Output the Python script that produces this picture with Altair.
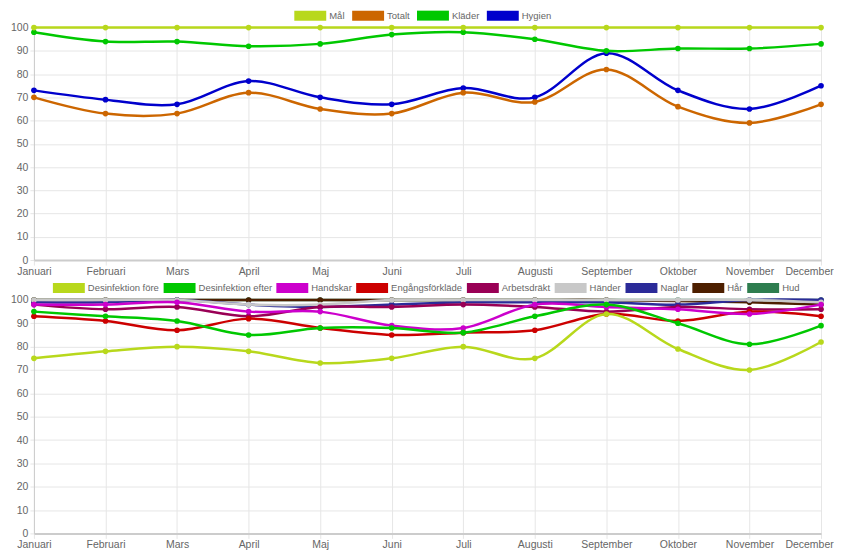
import altair as alt
import pandas as pd

months = ["Januari", "Februari", "Mars", "April", "Maj", "Juni", "Juli",
          "Augusti", "September", "Oktober", "November", "December"]

# ---- top chart ----
top_series = ["Mål", "Totalt", "Kläder", "Hygien"]
top_colors = ["#b8d81c", "#cc6600", "#00c800", "#0000cc"]
mal = [100, 100, 100, 100, 100, 100, 100, 100, 100, 100, 100, 100]
totalt = [70, 63, 63, 72, 65, 63, 72, 68, 82, 66, 59, 67]
klader = [98, 94, 94, 92, 93, 97, 98, 95, 90, 91, 91, 93]
hygien = [73, 69, 67, 77, 70, 67, 74, 70, 89, 73, 65, 75]
top_values = [mal, totalt, klader, hygien]

# ---- bottom chart ----
bot_series = ["Desinfektion före", "Desinfektion efter", "Handskar", "Engångsförkläde",
              "Arbetsdräkt", "Händer", "Naglar", "Hår", "Hud"]
bot_colors = ["#b8d81c", "#00c800", "#cc00cc", "#cc0000", "#990055",
              "#c8c8c8", "#2b2b99", "#4d1f00", "#2e7d4f"]
desinf_fore = [75, 78, 80, 78, 73, 75, 80, 75, 94, 79, 70, 82]
desinf_efter = [95, 93, 91, 85, 88, 88, 86, 93, 98, 90, 81, 89]
handskar = [98, 98, 99, 95, 95, 89, 88, 98, 97, 96, 94, 98]
engangs = [93, 91, 87, 92, 88, 85, 86, 87, 94, 91, 95, 93]
arbetsdrakt = [98, 96, 97, 93, 97, 97, 98, 97, 95, 97, 96, 96]
hander = [100, 100, 100, 98, 98, 100, 100, 100, 100, 100, 100, 99]
naglar = [99, 99, 100, 98, 97, 98, 99, 99, 99, 98, 100, 100]
har = [100, 100, 100, 100, 100, 100, 100, 100, 100, 99.5, 99, 98]
hud = [100, 100, 100, 100, 100, 100, 100, 100, 100, 100, 100, 100]
bot_values = [desinf_fore, desinf_efter, handskar, engangs, arbetsdrakt,
              hander, naglar, har, hud]

FONT = "Liberation Sans, Arial, sans-serif"
FS = 10.5
LFS = 9.5
GRID = "#e6e6e6"
RECT = "M-3.2,-1H3.2V1H-3.2Z"


def long_df(series, values):
    rows = []
    for s, vals in zip(series, values):
        for m, v in zip(months, vals):
            rows.append({"month": m, "series": s, "value": v})
    return pd.DataFrame(rows)


def panel(series, colors, values, w, h, lx, cp):
    df = long_df(series, values)
    color = alt.Color(
        "series:N",
        scale=alt.Scale(domain=series, range=colors),
        legend=alt.Legend(
            orient="none", legendX=lx, legendY=-17, direction="horizontal",
            title=None, columns=len(series), symbolType=RECT, symbolSize=100,
            symbolStrokeWidth=0, symbolOpacity=1,
            labelFont=FONT, labelFontSize=LFS, labelColor="#666666",
            labelOffset=14, columnPadding=cp, padding=0,
        ),
    )
    x = alt.X("month:N", sort=months, scale=alt.Scale(padding=0),
              axis=alt.Axis(title=None, labelAngle=0, grid=True, gridColor=GRID,
                            tickColor=GRID, tickSize=5, domainColor="#cccccc",
                            domainWidth=2, labelFont=FONT, labelFontSize=FS,
                            labelColor="#666666", labelPadding=1,
                            labelOffset={"condition": {"test": "datum.value === 'December'",
                                                       "value": -12},
                                         "value": 0}))
    y = alt.Y("value:Q", scale=alt.Scale(domain=[0, 100], nice=False),
              axis=alt.Axis(title=None, values=list(range(0, 101, 10)), grid=True,
                            gridColor=GRID, tickColor=GRID, tickSize=4,
                            domainColor="#cccccc", domainWidth=1,
                            labelFont=FONT, labelFontSize=FS,
                            labelColor="#666666", labelPadding=2))
    layers = []
    for s in reversed(series):
        sub = df[df["series"] == s]
        base = alt.Chart(sub)
        layers.append(base.mark_line(interpolate="cardinal", strokeWidth=2.5)
                      .encode(x=x, y=y, color=color))
        layers.append(base.mark_point(filled=True, size=32, opacity=1)
                      .encode(x=x, y=y, color=color))
    return alt.layer(*layers).properties(width=w, height=h)


top = panel(top_series, top_colors, top_values, 789, 233, 272, 7)
bottom = panel(bot_series, bot_colors, bot_values, 789, 234, 30, 4)

chart = (
    alt.vconcat(top, bottom, spacing=6)
    .resolve_scale(color="independent")
    .resolve_legend(color="independent")
    .properties(padding={"left": 2, "top": 2, "right": 0, "bottom": 0})
    .configure_view(stroke=None)
)

chart.save("out.html", embed_options={"renderer": "svg", "actions": False})
